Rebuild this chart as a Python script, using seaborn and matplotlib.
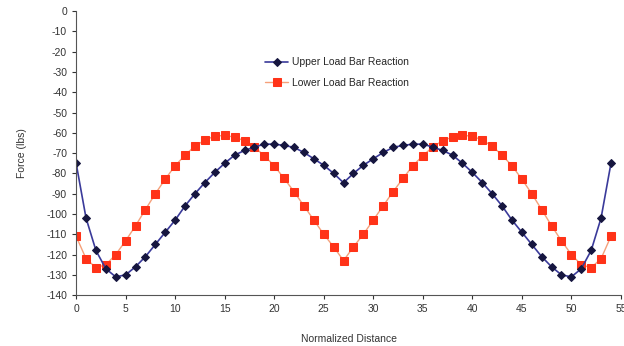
import matplotlib
matplotlib.use("Agg")
import matplotlib.pyplot as plt
import seaborn as sns
import pandas as pd

# normalized distance 0..54
distance = list(range(55))

upper = [-75, -102, -118, -127, -131, -130, -126, -121, -115, -109,
         -103, -96, -90, -84.5, -79.5, -75, -71, -68.7, -67, -65.6,
         -65.6, -66.2, -67.2, -69.7, -72.8, -76, -80, -84.6, -80, -76,
         -72.8, -69.7, -67.2, -66.2, -65.6, -65.6, -67, -68.7, -71, -75,
         -79.5, -84.5, -90, -96, -103, -109, -115, -121, -126, -130,
         -131, -127, -118, -102, -75]

lower = [-111, -122, -126.5, -125, -120, -113.2, -105.8, -97.8, -90, -82.8,
         -76.2, -71, -66.5, -63.6, -61.6, -61.3, -62.1, -63.9, -67, -71.3,
         -76.2, -82.5, -89, -96, -103, -110, -116.2, -123, -116.2, -110,
         -103, -96, -89, -82.5, -76.2, -71.3, -67, -63.9, -62.1, -61.3,
         -61.6, -63.6, -66.5, -71, -76.2, -82.8, -90, -97.8, -105.8, -113.2,
         -120, -125, -126.5, -122, -111]

x_ticks = list(range(0, 60, 5))
y_ticks = list(range(-140, 10, 10))

df = pd.DataFrame({"dist": distance, "upper": upper, "lower": lower})

sns.set_style("ticks")
plt.rcParams["font.family"] = ["Liberation Sans", "DejaVu Sans"]
plt.rcParams["axes.unicode_minus"] = False

fig = plt.figure(figsize=(6.24, 3.46), dpi=100)
ax = fig.add_axes([0.122, 0.147, 0.873, 0.821])

sns.lineplot(data=df, x="dist", y="lower", ax=ax, color="#f5a07a", lw=1.0,
             marker="s", markersize=5.2, markerfacecolor="#ff3318",
             markeredgecolor="#ff3318", label="Lower Load Bar Reaction")
sns.lineplot(data=df, x="dist", y="upper", ax=ax, color="#3a3a9a", lw=1.2,
             marker="D", markersize=4.2, markerfacecolor="#16163f",
             markeredgecolor="#16163f", label="Upper Load Bar Reaction")

ax.set_xlim(0, 55)
ax.set_ylim(-140, 0)
ax.set_xticks(x_ticks)
ax.set_yticks(y_ticks)
ax.tick_params(labelsize=7.5, colors="#333333", length=3, width=0.8)
ax.set_xlabel("Normalized Distance", fontsize=7.5, color="#333333", labelpad=14)
ax.set_ylabel("Force (lbs)", fontsize=7.5, color="#333333", labelpad=14)
for s in ("top", "right"):
    ax.spines[s].set_visible(False)
for s in ("left", "bottom"):
    ax.spines[s].set_color("#555555")
    ax.spines[s].set_linewidth(0.8)

h, l = ax.get_legend_handles_labels()
ax.legend(h[::-1], l[::-1], loc="upper left", bbox_to_anchor=(0.33, 0.87),
          frameon=False, fontsize=7.5, handlelength=2.2, labelspacing=1.0,
          handletextpad=0.4)

fig.savefig("out.png", dpi=100)
